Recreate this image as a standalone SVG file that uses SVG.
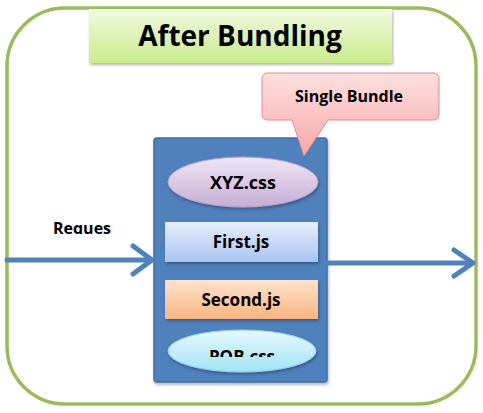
<svg xmlns="http://www.w3.org/2000/svg" width="483" height="413" viewBox="0 0 483 413">
<defs>
<linearGradient id="gTitle" x1="0" y1="0" x2="0" y2="1"><stop offset="0" stop-color="#f1fadf"/><stop offset="1" stop-color="#c9ec8c"/></linearGradient>
<linearGradient id="gPink" x1="0" y1="0" x2="0" y2="1"><stop offset="0" stop-color="#fde0e0"/><stop offset="1" stop-color="#f7a7a7"/></linearGradient>
<linearGradient id="gLav" x1="0" y1="0" x2="0" y2="1"><stop offset="0" stop-color="#efe6f5"/><stop offset="1" stop-color="#c6aed6"/></linearGradient>
<linearGradient id="gBlue" x1="0" y1="0" x2="0" y2="1"><stop offset="0" stop-color="#e8effb"/><stop offset="1" stop-color="#a9c4f0"/></linearGradient>
<linearGradient id="gOrange" x1="0" y1="0" x2="0" y2="1"><stop offset="0" stop-color="#fde3cc"/><stop offset="1" stop-color="#f9b57e"/></linearGradient>
<linearGradient id="gCyan" x1="0" y1="0" x2="0" y2="1"><stop offset="0" stop-color="#e6f8fd"/><stop offset="1" stop-color="#a2e3f6"/></linearGradient>
<clipPath id="cPob"><rect x="150" y="320" width="180" height="37"/></clipPath>
<clipPath id="cReq"><rect x="40" y="210" width="90" height="24"/></clipPath>
<filter id="sh" x="-10%" y="-10%" width="120%" height="130%"><feDropShadow dx="1" dy="2" stdDeviation="1.5" flood-color="#000" flood-opacity="0.3"/></filter>
</defs>
<style>
.t{font-family:"Open Sans","Liberation Sans",sans-serif;font-weight:bold;fill:#000;text-anchor:middle}
.arrow{fill:none;stroke:#4f81bd;stroke-width:5;stroke-linecap:round;stroke-linejoin:round}
</style>
<rect width="483" height="413" fill="#fff"/>
<g id="frame"><rect x="7" y="8" width="469" height="396" rx="58" ry="58" fill="#fff" stroke="#9bbb59" stroke-width="3.5"/></g>
<g id="title"><rect x="89" y="9" width="303" height="54" fill="url(#gTitle)" filter="url(#sh)"/><text class="t" x="240" y="46" font-size="28">After Bundling</text></g>
<g id="bundle"><rect x="154" y="138" width="173" height="244" rx="3" fill="#4f81bd" stroke="#3f6ea5" stroke-width="1.5" filter="url(#sh)"/></g>
<g id="callout"><path d="M268,73 H433 Q439,73 439,79 V114 Q439,120 433,120 H328 L304,156 L292,120 H268 Q262,120 262,114 V79 Q262,73 268,73 Z" fill="url(#gPink)" stroke="#e08a8a" stroke-width="1"/><text class="t" x="349" y="102" font-size="16">Single Bundle</text></g>
<g id="xyz"><ellipse cx="243" cy="182" rx="75" ry="25" fill="url(#gLav)" stroke="#b6a0c8" stroke-width="1" filter="url(#sh)"/><text class="t" x="243" y="189" font-size="18">XYZ.css</text></g>
<g id="first"><rect x="165" y="222" width="153" height="40" fill="url(#gBlue)" filter="url(#sh)"/><text class="t" x="241" y="248" font-size="17">First.js</text></g>
<g id="second"><rect x="165" y="280" width="153" height="39" fill="url(#gOrange)" filter="url(#sh)"/><text class="t" x="241" y="306" font-size="17">Second.js</text></g>
<g id="pob"><ellipse cx="242" cy="351" rx="74" ry="21" fill="url(#gCyan)" stroke="#8fd3ea" stroke-width="1" filter="url(#sh)"/><text class="t" x="242" y="363" font-size="17" clip-path="url(#cPob)">POB.css</text></g>
<g id="request"><text class="t" x="82" y="234" font-size="16" clip-path="url(#cReq)">Reques</text></g>
<g id="connectors">
<path class="arrow" d="M7,260 H151"/><path class="arrow" d="M133,246 L152,260 L133,274"/>
<path class="arrow" d="M327,263 H472"/><path class="arrow" d="M454,250 L473,263 L454,276"/>
</g>
</svg>
